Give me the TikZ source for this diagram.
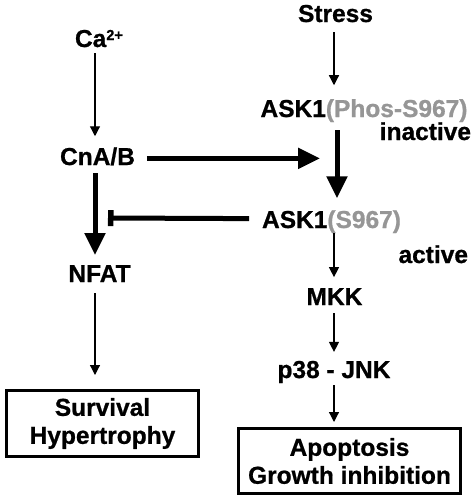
\documentclass[tikz,border=0pt]{standalone}
\usepackage{fontspec}
\setmainfont[BoldFeatures={FakeBold=0.8}]{Liberation Sans}
\usetikzlibrary{arrows.meta,calc}
\definecolor{phosgray}{RGB}{150,150,150}
\begin{document}
\begin{tikzpicture}[x=1pt,y=1pt,
  lbl/.style={font=\fontsize{24.5}{26}\selectfont\bfseries, inner sep=0pt, outer sep=0pt, anchor=base},
  resbox/.style={draw, line width=3pt, font=\fontsize{24.5}{28}\selectfont\bfseries, align=center, inner sep=0pt},
  thinarr/.style={line width=1.2pt, -{Triangle[width=10pt,length=10pt]}},
  bigarr/.style={line width=5pt, -{Triangle[width=20pt,length=22pt]}},
  inharr/.style={line width=5pt, -{Bar[width=16pt,line width=5.5pt]}}
]
\useasboundingbox (0,0) rectangle (475,-501);
\fill[white] (0,0) rectangle (475,-501);
\coordinate (lc) at (95,0);
\coordinate (rc) at (334,0);
\coordinate (rct) at (337,0);
% nodes
\node[lbl, anchor=base west] (ca) at (75,-47) {Ca\raisebox{7pt}{\fontsize{14.5}{14}\selectfont 2+}};
\node[lbl] (cna) at (97.5,-165) {CnA/B};
\node[lbl] (stress) at (335.5,-22) {Stress};
\node[lbl] (askp) at (364,-117) {ASK1\textcolor{phosgray}{(Phos-S967)}};
\node[lbl, anchor=base east] (inact) at (471,-140) {inactive};
\node[lbl] (aska) at (331.5,-228) {ASK1\textcolor{phosgray}{(S967)}};
\node[lbl, anchor=base east] (act) at (468,-263) {active};
\node[lbl] (nfat) at (99.5,-282) {NFAT};
\node[lbl] (mkk) at (334.5,-305) {MKK};
\node[lbl] (p38) at (334,-378) {p38 - JNK};
\node[resbox, minimum width=192pt, minimum height=66pt] (surv) at (102.5,-423.5) {Survival\\Hypertrophy};
\node[resbox, minimum width=222pt, minimum height=65pt] (apo) at (349.5,-461) {Apoptosis\\Growth inhibition};
\coordinate (inh) at (108,-218);
% connectors
\draw[thinarr, shorten <=6pt, shorten >=11pt] (lc |- ca.south) -- (lc |- cna.north);
\draw[bigarr, shorten <=8pt, shorten >=10pt] (lc |- cna.south) -- (lc |- nfat.north);
\draw[thinarr, shorten <=11pt, shorten >=14pt] (lc |- nfat.south) -- (lc |- surv.north);
\draw[thinarr, shorten <=10pt, shorten >=14pt] (rc |- stress.south) -- (rc |- askp.north);
\draw[bigarr, shorten <=8pt, shorten >=12pt] (rct |- askp.south) -- (rct |- aska.north);
\draw[bigarr, shorten <=12pt, shorten >=17pt] ([yshift=-2pt]cna.east) -- ([yshift=-2pt]cna.east -| rct);
\draw[inharr, shorten <=13pt] ([yshift=3pt]aska.west) -- (inh);
\draw[thinarr, shorten >=11pt] (rc |- aska.south) -- (rc |- mkk.north);
\draw[thinarr, shorten <=8pt, shorten >=9pt] (rc |- mkk.south) -- (rc |- p38.north);
\draw[thinarr, shorten <=2pt, shorten >=5pt] (rc |- p38.south) -- (rc |- apo.north);
\end{tikzpicture}
\end{document}
